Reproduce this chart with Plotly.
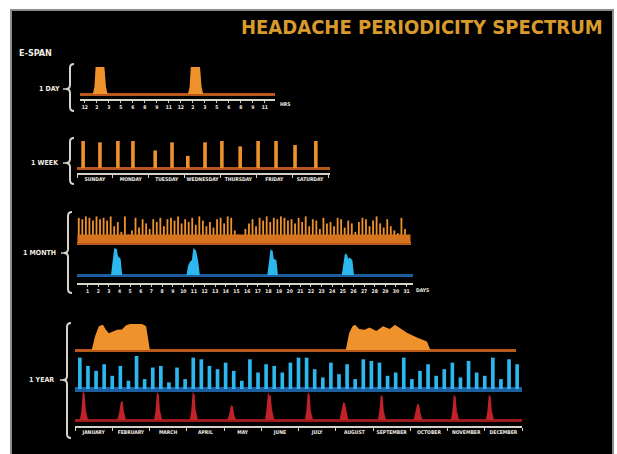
import plotly.graph_objects as go

W, H = 617, 454

# ---------------- DATA ----------------
# 1 DAY : headache intensity over the 24 h day (hour, level)
day_hour = [0, 1.6, 1.8, 1.95, 3.05, 3.25, 3.45, 13.5, 13.7, 13.85, 15.0, 15.2, 15.4, 24]
day_level = [0, 0, 0.25, 1.0, 1.0, 0.25, 0, 0, 0.25, 1.0, 1.0, 0.25, 0, 0]
day_tick_hours = [0.6, 2.1, 3.6, 5.1, 6.6, 8.1, 9.6, 11.1, 12.6, 14.1, 15.6, 17.1, 18.6, 20.1, 21.6, 23.1]
day_tick_labels = ["12", "2", "3", "5", "6", "8", "9", "11", "12", "2", "3", "5", "6", "8", "9", "11"]

# 1 WEEK : attack times (day of week) and intensities
week_time = [0.17, 0.64, 1.14, 1.56, 2.18, 2.65, 3.09, 3.57, 4.04, 4.55, 5.05, 5.55, 6.08, 6.66]
week_level = [1.0, 0.95, 1.0, 1.0, 0.65, 0.95, 0.45, 0.95, 1.0, 0.8, 1.0, 1.0, 0.85, 1.0]
week_days = ["SUNDAY", "MONDAY", "TUESDAY", "WEDNESDAY", "THURSDAY", "FRIDAY", "SATURDAY"]

# 1 MONTH : orange comb sampled every 8 hours
month_orange = [0.9, 0.85, 0.95, 0.9, 0.8, 0.95, 0.85, 0.9, 0.8, 0.95, 0.6, 0.75, 0.4, 0.95, 0.3,
                0.45, 0.9, 0.55, 0.85, 0.7, 0.5, 0.85, 0.75, 0.9, 0.6, 0.85, 0.9, 0.8, 0.95, 0.7,
                0.85, 0.75, 0.9, 0.65, 0.95, 0.8, 0.6, 0.75, 0.55, 0.85, 0.9, 0.7, 0.95, 0.9, 0.45,
                0.3, 0.25, 0.5, 0.7, 0.85, 0.6, 0.9, 0.8, 0.95, 0.75, 0.9, 0.85, 0.95, 0.9, 0.8,
                0.85, 0.7, 0.9, 0.75, 0.95, 0.6, 0.85, 0.8, 0.5, 0.9, 0.7, 0.75, 0.6, 0.9, 0.85,
                0.55, 0.8, 0.7, 0.4, 0.75, 0.9, 0.85, 0.6, 0.8, 0.95, 0.7, 0.55, 0.85, 0.6, 0.45,
                0.35, 0.9, 0.5]
month_orange_floor = 0.3
# 1 MONTH : blue episodes (day, level)
month_blue_day = [0, 3.2, 3.35, 3.5, 3.75, 3.85, 4.1, 4.25,
                  10.3, 10.45, 10.65, 10.8, 10.95, 11.2, 11.4, 11.55,
                  17.9, 18.05, 18.2, 18.4, 18.5, 18.75, 18.9,
                  24.9, 25.05, 25.2, 25.4, 25.5, 25.65, 25.9, 26.05, 31.3]
month_blue_level = [0, 0, 0.5, 1.0, 0.95, 0.7, 0.6, 0,
                    0, 0.35, 0.5, 0.55, 1.0, 0.9, 0.5, 0,
                    0, 0.55, 0.95, 0.9, 0.6, 0.55, 0,
                    0, 0.5, 0.8, 0.75, 0.6, 0.65, 0.55, 0, 0]
month_days = list(range(1, 32))

# 1 YEAR : orange seasonal clusters (month, level)
year_orange_month = [0, 0.45, 0.54, 0.64, 0.75, 0.83, 0.91, 1.02, 1.13, 1.26, 1.37, 1.48, 1.8, 1.91, 1.96, 2.01,
                     7.27, 7.36, 7.45, 7.52, 7.63, 7.77, 7.91, 8.09, 8.27, 8.45, 8.59, 8.72, 8.91, 9.18,
                     9.45, 9.54, 11.84]
year_orange_level = [0, 0, 0.5, 0.85, 0.9, 0.72, 0.6, 0.66, 0.72, 0.73, 0.88, 0.93, 0.93, 0.85, 0.4, 0,
                     0, 0.6, 0.85, 0.9, 0.75, 0.72, 0.8, 0.68, 0.85, 0.75, 0.9, 0.78, 0.62, 0.45,
                     0.3, 0, 0]
# 1 YEAR : blue weekly attacks
year_blue = [0.95, 0.7, 0.55, 0.75, 0.4, 0.7, 0.25, 1.0, 0.3, 0.65, 0.7, 0.2, 0.65, 0.3, 0.95,
             0.9, 0.7, 0.6, 0.8, 0.55, 0.25, 0.9, 0.5, 0.75, 0.7, 0.5, 0.8, 0.95, 0.95, 0.6,
             0.35, 0.8, 0.45, 0.75, 0.3, 0.9, 0.85, 0.8, 0.4, 0.5, 0.95, 0.3, 0.55, 0.75, 0.4,
             0.6, 0.8, 0.35, 0.85, 0.5, 0.4, 0.95, 0.3, 0.9, 0.75]
# 1 YEAR : red monthly attacks (month, level)
year_red_month = [0.13, 0.17, 0.21, 0.26, 0.29, 0.35,
                  1.13, 1.18, 1.23, 1.28, 1.31, 1.37,
                  2.12, 2.16, 2.20, 2.25, 2.28, 2.34,
                  3.08, 3.12, 3.16, 3.21, 3.24, 3.30,
                  4.09, 4.14, 4.19, 4.24, 4.27, 4.32,
                  5.10, 5.14, 5.18, 5.22, 5.25, 5.29, 5.35,
                  6.17, 6.21, 6.25, 6.30, 6.33, 6.39,
                  7.10, 7.15, 7.20, 7.25, 7.29, 7.34,
                  8.13, 8.17, 8.21, 8.26, 8.29, 8.35,
                  9.09, 9.14, 9.19, 9.24, 9.27, 9.33,
                  10.09, 10.13, 10.17, 10.22, 10.25, 10.31,
                  11.03, 11.07, 11.11, 11.16, 11.19, 11.25]
year_red_level = [0, 0.29, 0.97, 0.87, 0.34, 0,
                  0, 0.22, 0.6, 0.63, 0.3, 0,
                  0, 0.28, 0.93, 0.84, 0.33, 0,
                  0, 0.3, 0.93, 0.84, 0.33, 0,
                  0, 0.2, 0.5, 0.45, 0.2, 0,
                  0, 0.35, 0.93, 0.8, 0.85, 0.35, 0,
                  0, 0.3, 0.93, 0.84, 0.3, 0,
                  0, 0.3, 0.6, 0.55, 0.3, 0,
                  0, 0.3, 0.85, 0.77, 0.3, 0,
                  0, 0.25, 0.55, 0.5, 0.25, 0,
                  0, 0.3, 0.85, 0.77, 0.3, 0,
                  0, 0.28, 0.85, 0.77, 0.3, 0]
year_months = ["JANUARY", "FEBRUARY", "MARCH", "APRIL", "MAY", "JUNE", "JULY", "AUGUST",
               "SEPTEMBER", "OCTOBER", "NOVEMBER", "DECEMBER"]

span_labels = ["1 DAY", "1 WEEK", "1 MONTH", "1 YEAR"]
title_text = "HEADACHE PERIODICITY SPECTRUM"

# ---------------- STYLE ----------------
ORANGE = "#f0922c"
ORANGE_FLOOR = "#d6731f"
ORANGE_BASE = "#b9581b"
BLUE = "#2cb8ee"
BLUE_BASE = "#1c5e9e"
RED = "#c0222a"
RED_BASE = "#9a1a1e"
AXIS = "#d6d2ca"
TEXT = "#f0ece4"
NARROW = "Liberation Sans Narrow, DejaVu Sans Condensed, Arial Narrow, sans-serif"


def fx(px):
    return px / W


def fy(py):
    return 1 - py / H


def xax(px0, px1, rng, anchor):
    return dict(domain=[fx(px0), fx(px1)], range=rng, anchor=anchor, showgrid=False, zeroline=False,
                showticklabels=False, ticks="", showline=False, fixedrange=True)


def yax(py_top, py_bot, py_base, unit, zc, zw, anchor):
    rng = [-(py_bot - py_base) / unit, (py_base - py_top) / unit]
    return dict(domain=[fy(py_bot), fy(py_top)], range=rng, anchor=anchor, showgrid=False,
                showticklabels=False, ticks="", showline=False, fixedrange=True,
                zeroline=True, zerolinecolor=zc, zerolinewidth=zw)


def show_axis(ax, tickvals, ticktext, minor_vals=None, major_ticks=True, size=5):
    ax.update(showline=True, linecolor=AXIS, linewidth=2, showticklabels=True,
              tickvals=tickvals, ticktext=["<b>" + t + "</b>" for t in ticktext],
              ticks="outside" if major_ticks else "", ticklen=2, tickwidth=1, tickcolor=AXIS,
              tickfont=dict(size=size, color=TEXT, family=NARROW))
    if minor_vals is not None:
        ax.update(minor=dict(tickvals=minor_vals, ticks="outside", ticklen=3, tickwidth=1, tickcolor=AXIS))
    return ax


fig = go.Figure()

# 1 DAY
fig.add_trace(go.Scatter(x=day_hour, y=day_level, mode="lines", line=dict(width=0, color=ORANGE),
                         fill="tozeroy", fillcolor=ORANGE, xaxis="x", yaxis="y", hoverinfo="skip"))
# 1 WEEK
fig.add_trace(go.Bar(x=week_time, y=week_level, width=0.1, marker=dict(color=ORANGE, line=dict(width=0)),
                     xaxis="x2", yaxis="y2", hoverinfo="skip"))
# 1 MONTH orange
m_t = [(i + 0.5) / 3 for i in range(len(month_orange))]
fig.add_trace(go.Scatter(x=[0.05, 31.35], y=[month_orange_floor, month_orange_floor], mode="lines",
                         line=dict(width=0, color=ORANGE_FLOOR), fill="tozeroy", fillcolor=ORANGE_FLOOR,
                         xaxis="x3", yaxis="y3", hoverinfo="skip"))
fig.add_trace(go.Bar(x=m_t, y=month_orange, width=0.17, marker=dict(color=ORANGE, line=dict(width=0)),
                     xaxis="x3", yaxis="y3", hoverinfo="skip"))
# 1 MONTH blue
fig.add_trace(go.Scatter(x=month_blue_day, y=month_blue_level, mode="lines", line=dict(width=0, color=BLUE),
                         fill="tozeroy", fillcolor=BLUE, xaxis="x4", yaxis="y4", hoverinfo="skip"))
# 1 YEAR orange
fig.add_trace(go.Scatter(x=year_orange_month, y=year_orange_level, mode="lines", line=dict(width=0, color=ORANGE),
                         fill="tozeroy", fillcolor=ORANGE, xaxis="x5", yaxis="y5", hoverinfo="skip"))
# 1 YEAR blue
fig.add_trace(go.Bar(x=list(range(len(year_blue))), y=year_blue, width=0.45,
                     marker=dict(color=BLUE, line=dict(width=0)), xaxis="x6", yaxis="y6", hoverinfo="skip"))
# 1 YEAR red
fig.add_trace(go.Scatter(x=year_red_month, y=year_red_level, mode="lines", line=dict(width=0, color=RED),
                         fill="tozeroy", fillcolor=RED, xaxis="x7", yaxis="y7", hoverinfo="skip"))

layout = dict(
    width=W, height=H, margin=dict(l=0, r=0, t=0, b=0), showlegend=False,
    paper_bgcolor="white", plot_bgcolor="rgba(0,0,0,0)", barmode="overlay",
    xaxis=show_axis(xax(80, 275, [0, 24.375], "y"), day_tick_hours, day_tick_labels),
    yaxis=yax(62, 99, 94, 27, ORANGE_BASE, 3, "x"),
    xaxis2=show_axis(xax(77, 330, [0, 7.055], "y2"), [d + 0.5 for d in range(7)], week_days,
                     minor_vals=list(range(8)), major_ticks=False),
    yaxis2=yax(139, 173, 168, 27, ORANGE_BASE, 3, "x2"),
    xaxis3=xax(77, 411, [0, 31.4], "y3"),
    yaxis3=yax(212, 246, 243, 28, ORANGE_BASE, 3, "x3"),
    xaxis4=show_axis(xax(77, 413, [0, 31.6], "y4"), month_days, [str(d) for d in month_days]),
    yaxis4=yax(245, 283, 275, 27, BLUE_BASE, 3, "x4"),
    xaxis5=xax(75, 516, [0, 11.84], "y5"),
    yaxis5=yax(319, 353, 350, 28, ORANGE_BASE, 3, "x5"),
    xaxis6=xax(75, 522, [-0.6, 54.6], "y6"),
    yaxis6=yax(353, 393, 389, 33, BLUE_BASE, 5, "x6"),
    xaxis7=show_axis(xax(75, 522, [0, 12], "y7"), [m + 0.5 for m in range(12)], year_months,
                     minor_vals=list(range(13)), major_ticks=False),
    yaxis7=yax(387, 426, 420, 30, RED_BASE, 3, "x7"),
)
fig.update_layout(**layout)

shapes = [dict(type="rect", xref="paper", yref="paper", x0=fx(11), x1=fx(613), y0=fy(460), y1=fy(10),
               fillcolor="black", line=dict(color="#8c8c8c", width=2), layer="below")]


def brace_path(x_tip, x_end, y_top, y_mid, y_bot, r=4):
    xc = (x_tip + x_end) / 2
    pts = [
        ("M", [(x_end, y_top)]),
        ("Q", [(xc, y_top), (xc, y_top + r)]),
        ("L", [(xc, y_mid - r)]),
        ("Q", [(xc, y_mid), (x_tip, y_mid)]),
        ("Q", [(xc, y_mid), (xc, y_mid + r)]),
        ("L", [(xc, y_bot - r)]),
        ("Q", [(xc, y_bot), (x_end, y_bot)]),
    ]
    s = ""
    for cmd, ps in pts:
        s += cmd + " " + " ".join("%.5f,%.5f" % (fx(a), fy(b)) for a, b in ps) + " "
    return s.strip()


braces = [(66, 74, 64, 89, 111), (66, 74, 138, 163, 184), (64, 72, 212, 253, 293), (63, 71, 323, 380, 438)]
label_pos = [(62, 89), (61, 163), (58, 253), (56, 380)]
for (xt, xe, yt, ym, yb) in braces:
    shapes.append(dict(type="path", xref="paper", yref="paper", path=brace_path(xt, xe, yt, ym, yb),
                       line=dict(color=AXIS, width=2)))
    shapes.append(dict(type="line", xref="paper", yref="paper", x0=fx(xt - 3), x1=fx(xt), y0=fy(ym), y1=fy(ym),
                       line=dict(color=AXIS, width=1.5)))

annotations = [
    dict(text="<b>" + title_text + "</b>", x=fx(605), y=fy(27), xref="paper", yref="paper",
         xanchor="right", yanchor="middle", showarrow=False,
         font=dict(size=20, color="#d99a2c", family=NARROW)),
    dict(text="<b>E-SPAN</b>", x=fx(17), y=fy(53), xref="paper", yref="paper", xanchor="left",
         yanchor="middle", showarrow=False, font=dict(size=9, color=TEXT, family=NARROW)),
    dict(text="<b>HRS</b>", x=fx(278), y=fy(104.5), xref="paper", yref="paper", xanchor="left",
         yanchor="middle", showarrow=False, font=dict(size=5, color=TEXT, family=NARROW)),
    dict(text="<b>DAYS</b>", x=fx(414), y=fy(290), xref="paper", yref="paper", xanchor="left",
         yanchor="middle", showarrow=False, font=dict(size=5, color=TEXT, family=NARROW)),
]
for lab, (lx, ly) in zip(span_labels, label_pos):
    annotations.append(dict(text="<b>" + lab + "</b>", x=fx(lx), y=fy(ly), xref="paper", yref="paper",
                            xanchor="right", yanchor="middle", showarrow=False,
                            font=dict(size=7, color=TEXT, family=NARROW)))

fig.update_layout(shapes=shapes, annotations=annotations)
fig.write_html("out.html", config={"displayModeBar": False, "staticPlot": True},
               post_script="document.body.style.margin='0';document.body.style.overflow='hidden';")
